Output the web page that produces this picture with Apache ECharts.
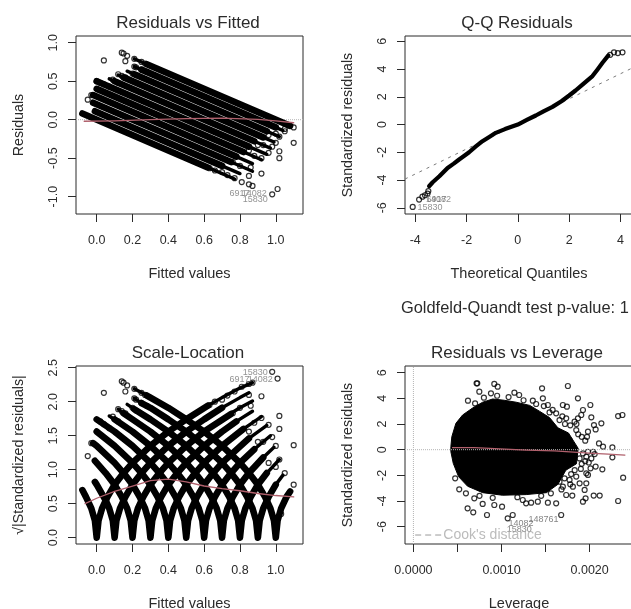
<!DOCTYPE html>
<html><head><meta charset="utf-8">
<style>html,body{margin:0;padding:0;background:#fff;overflow:hidden}#c{width:631px;height:609px}canvas{filter:blur(0.45px)}</style>
<script src="https://cdn.jsdelivr.net/npm/echarts@6/dist/echarts.min.js"></script>
</head><body><div id="c"></div>
<script>
// Residuals vs Fitted: dense bands (one per observed level), read as start/end points
const bandStartX=[-0.08,-0.01,-0.02,-0.02,0,0,0.1,0.15,0.21,0.25,0.28];
const bandStartY=[0.08,0.11,0.22,0.32,0.4,0.5,0.5,0.55,0.59,0.65,0.72];
const bandEndX=[0.62,0.7,0.75,0.78,0.82,0.85,0.88,0.93,0.95,1.0,1.08];
const bandEndY=[-0.62,-0.6,-0.55,-0.48,-0.42,-0.35,-0.28,-0.23,-0.15,-0.1,-0.08];
// thinner strings of overlapping circles at the ends of the bands
const rvfStrings=[[[0.62,-0.62],[0.77,-0.77]],[[0.7,-0.6],[0.8,-0.7]],[[0.75,-0.55],[0.87,-0.67]],[[0.78,-0.48],[0.87,-0.57]],[[0.82,-0.42],[0.92,-0.52]],[[0.85,-0.35],[0.95,-0.45]],[[0.88,-0.28],[0.97,-0.37]],[[0.93,-0.23],[0.99,-0.29]],[[0.95,-0.15],[1.02,-0.22]],[[1.0,-0.1],[1.04,-0.14]],[[0.28,0.72],[0.21,0.79]],[[0.25,0.65],[0.21,0.69]],[[0.21,0.59],[0.17,0.63]],[[0.15,0.55],[0.12,0.58]],[[0.1,0.5],[0.07,0.53]]];
const rvfSparse=[[0.14,0.87],[0.15,0.86],[0.17,0.83],[0.21,0.79],[0.25,0.75],[0.27,0.73],[0.21,0.69],[0.22,0.68],[0.25,0.65],[0.28,0.62],[0.04,0.77],[0.16,0.76],[0.12,0.59],[0.14,0.57],[0.16,0.55],[0.2,0.6],[0.22,0.58],[0.09,0.52],[0.12,0.48],[0.02,0.48],[0.04,0.46],[0.07,0.43],[0,0.5],[-0.05,0.26],[-0.03,0.32],[0.63,-0.63],[0.66,-0.66],[0.7,-0.68],[0.73,-0.72],[0.77,-0.76],[0.81,-0.81],[0.85,-0.84],[0.87,-0.86],[0.98,-0.97],[1.01,-0.9],[0.92,-0.7],[1.02,-0.41],[1.02,-0.5],[1.1,-0.3],[1.1,-0.1],[0.92,-0.5],[0.96,-0.43],[0.98,-0.35],[1.0,-0.3],[1.02,-0.22],[1.05,-0.12],[1.05,-0.15],[0.86,-0.62],[0.85,-0.73],[0.8,-0.6],[0.76,-0.55],[0.88,-0.47],[0.85,-0.4],[0.9,-0.33],[0.93,-0.33],[0.96,-0.2],[1.0,-0.18]];
const rvfSmooth=[[-0.07,-0.02],[0.1,-0.015],[0.3,0],[0.5,0.015],[0.7,0.02],[0.9,0.005],[1.0,-0.015],[1.1,-0.04]];
const rvfLabels=[[0.741,-0.957,'6917'],[0.81,-0.957,'14082'],[0.816,-1.043,'15830']];
const fittedTicks=[0,0.2,0.4,0.6,0.8,1.0];
const rvfYTicks=[-1,-0.5,0,0.5,1];

// Q-Q Residuals
const qqCurve=[[-3.46,-4.45],[-3.32,-4.16],[-3.06,-3.73],[-2.74,-3.13],[-2.5,-2.82],[-2.29,-2.52],[-2.1,-2.27],[-1.9,-2.0],[-1.65,-1.6],[-1.38,-1.2],[-1.1,-0.88],[-0.86,-0.6],[-0.5,-0.33],[0,0],[0.35,0.33],[0.7,0.65],[1.0,0.95],[1.35,1.27],[1.7,1.68],[2,2.09],[2.25,2.45],[2.52,2.88],[2.91,3.49],[3.1,3.95],[3.3,4.45],[3.53,4.98]];
const qqTails=[[-4.1,-5.94],[-3.85,-5.41],[-3.72,-5.2],[-3.62,-5.1],[-3.52,-4.98],[-3.49,-4.8],[3.6,5.02],[3.75,5.2],[3.9,5.15],[4.08,5.2]];
const qqRef=[[-4.4,-3.93],[4.49,4.1]];
const qqLabels=[[-3.91,-5.96,'15830'],[-3.58,-5.41,'14082'],[-3.56,-5.41,'6917']];
const qqXTicks=[-4,-2,0,2,4];
const qqYTicks=[-6,-4,-2,0,2,4,6];

// Scale-Location: one V-shaped dense band per observed level
const slBands=[
[[-0.08,0.70],[-0.06,0.60],[-0.03,0.43],[-0.01,0.25],[0,0],[0.01,0.25],[0.03,0.43],[0.06,0.60],[0.1,0.78],[0.15,0.95],[0.2,1.1],[0.3,1.35],[0.4,1.56],[0.5,1.74],[0.62,1.94]],
[[-0.01,0.82],[0,0.78],[0.05,0.55],[0.07,0.43],[0.09,0.25],[0.1,0],[0.11,0.25],[0.13,0.43],[0.16,0.6],[0.2,0.78],[0.25,0.95],[0.3,1.1],[0.4,1.35],[0.5,1.56],[0.6,1.74],[0.7,1.91]],
[[-0.01,1.13],[0,1.1],[0.05,0.95],[0.1,0.78],[0.14,0.6],[0.17,0.43],[0.19,0.25],[0.2,0],[0.21,0.25],[0.23,0.43],[0.26,0.6],[0.3,0.78],[0.35,0.95],[0.4,1.1],[0.5,1.35],[0.6,1.56],[0.75,1.82]],
[[-0.02,1.39],[0,1.35],[0.1,1.1],[0.15,0.95],[0.2,0.78],[0.24,0.6],[0.27,0.43],[0.29,0.25],[0.3,0],[0.31,0.25],[0.33,0.43],[0.36,0.6],[0.4,0.78],[0.45,0.95],[0.5,1.1],[0.6,1.35],[0.7,1.56],[0.78,1.71]],
[[0,1.56],[0.1,1.35],[0.2,1.1],[0.25,0.95],[0.3,0.78],[0.34,0.6],[0.37,0.43],[0.39,0.25],[0.4,0],[0.41,0.25],[0.43,0.43],[0.46,0.6],[0.5,0.78],[0.55,0.95],[0.6,1.1],[0.7,1.35],[0.82,1.6]],
[[0,1.74],[0.1,1.56],[0.2,1.35],[0.3,1.1],[0.35,0.95],[0.4,0.78],[0.44,0.6],[0.47,0.43],[0.49,0.25],[0.5,0],[0.51,0.25],[0.53,0.43],[0.56,0.6],[0.6,0.78],[0.65,0.95],[0.7,1.1],[0.85,1.46]],
[[0.1,1.74],[0.2,1.56],[0.3,1.35],[0.4,1.1],[0.45,0.95],[0.5,0.78],[0.54,0.6],[0.57,0.43],[0.59,0.25],[0.6,0],[0.61,0.25],[0.63,0.43],[0.66,0.6],[0.7,0.78],[0.75,0.95],[0.8,1.1],[0.88,1.3]],
[[0.15,1.83],[0.2,1.74],[0.3,1.56],[0.4,1.35],[0.5,1.1],[0.55,0.95],[0.6,0.78],[0.64,0.6],[0.67,0.43],[0.69,0.25],[0.7,0],[0.71,0.25],[0.73,0.43],[0.76,0.6],[0.8,0.78],[0.85,0.95],[0.93,1.18]],
[[0.21,1.89],[0.3,1.74],[0.4,1.56],[0.5,1.35],[0.6,1.1],[0.65,0.95],[0.7,0.78],[0.74,0.6],[0.77,0.43],[0.79,0.25],[0.8,0],[0.81,0.25],[0.83,0.43],[0.86,0.6],[0.9,0.78],[0.95,0.95]],
[[0.25,1.98],[0.3,1.91],[0.4,1.74],[0.5,1.56],[0.6,1.35],[0.7,1.1],[0.75,0.95],[0.8,0.78],[0.84,0.6],[0.87,0.43],[0.89,0.25],[0.9,0],[0.91,0.25],[0.93,0.43],[0.96,0.6],[1.0,0.78]],
[[0.28,2.09],[0.3,2.06],[0.4,1.91],[0.5,1.74],[0.6,1.56],[0.7,1.35],[0.8,1.1],[0.85,0.95],[0.9,0.78],[0.94,0.6],[0.97,0.43],[0.99,0.25],[1,0],[1.01,0.25],[1.03,0.43],[1.06,0.6],[1.08,0.68]]
];
const slStrings=[[[0.62,1.94],[0.7,2.06],[0.8,2.2],[0.87,2.28]],[[0.7,1.91],[0.8,2.06],[0.85,2.13]],[[0.75,1.83],[0.8,1.91],[0.87,2.01]],[[0.78,1.71],[0.87,1.86]],[[0.82,1.6],[0.92,1.78]],[[0.85,1.46],[0.95,1.65]],[[0.88,1.3],[0.97,1.5]],[[0.93,1.18],[0.99,1.33]],[[0.95,0.95],[1.02,1.15]],[[1.0,0.78],[1.04,0.92]],[[0.28,2.09],[0.21,2.19]],[[0.25,1.98],[0.21,2.05]],[[0.21,1.89],[0.17,1.96]],[[0.15,1.83],[0.12,1.89]],[[0.1,1.74],[0.07,1.79]]];
const slSparse=[[0.14,2.3],[0.15,2.28],[0.17,2.24],[0.21,2.19],[0.25,2.13],[0.27,2.1],[0.21,2.05],[0.22,2.03],[0.25,1.98],[0.28,1.94],[0.04,2.13],[0.16,2.15],[0.12,1.89],[0.14,1.86],[0.16,1.83],[0.2,1.91],[0.22,1.87],[0.09,1.78],[0.12,1.71],[0.02,1.71],[0.04,1.67],[0.07,1.61],[-0.05,1.2],[-0.03,1.39],[0.63,1.95],[0.66,2.0],[0.7,2.03],[0.73,2.09],[0.77,2.15],[0.81,2.22],[0.85,2.26],[0.87,2.28],[0.98,2.44],[1.01,2.34],[0.92,2.08],[1.02,1.6],[1.02,1.79],[1.1,1.36],[1.1,0.78],[0.92,1.76],[0.96,1.66],[0.98,1.48],[1.0,1.35],[1.02,1.15],[1.05,0.95],[0.86,1.94],[0.85,2.1],[0.8,1.91],[0.76,1.83],[0.88,1.69],[0.85,1.56],[0.9,1.41],[0.93,1.41],[0.96,1.10],[1.0,1.04],[1.03,0.35]];
const slSmooth=[[-0.065,0.5],[0,0.58],[0.1,0.68],[0.2,0.76],[0.3,0.84],[0.4,0.86],[0.5,0.82],[0.6,0.76],[0.7,0.72],[0.8,0.69],[0.9,0.65],[1.0,0.62],[1.1,0.6]];
const slLabels=[[0.816,2.426,'15830'],[0.741,2.32,'6917'],[0.844,2.32,'14082']];
const slYTicks=[0,0.5,1,1.5,2,2.5];

// Residuals vs Leverage
const blobLeverage=[0.000425,0.000436,0.000482,0.000558,0.000672,0.000786,0.0009,0.00103,0.001165,0.00132,0.00143,0.001545,0.00164,0.00176,0.00187,0.00185,0.00173,0.00164,0.00151,0.00128,0.00101,0.000786,0.000615,0.000512,0.000452,0.000425];
const blobResidual=[0.23,1.01,2.05,2.7,3.25,3.7,3.95,3.85,3.7,3.45,3.0,2.5,1.7,1.3,0.1,-1.1,-1.6,-2.7,-3.35,-3.5,-3.55,-3.35,-2.85,-2.1,-1.06,-0.16];
const rvlSparse=[[0.000717,5.17],[0.000725,5.17],[0.000748,4.52],[0.000918,5.12],[0.000956,4.91],[0.000619,3.82],[0.00088,4.39],[0.001146,4.44],[0.0012,4.26],[0.00146,4.78],[0.001753,4.96],[0.001867,4.0],[0.002008,3.48],[0.001696,3.48],[0.001742,3.35],[0.001526,3.48],[0.001469,4.0],[0.001355,3.82],[0.001393,3.56],[0.002323,2.62],[0.002372,2.7],[0.002133,2.05],[0.002019,2.52],[0.002049,1.92],[0.002068,1.58],[0.001981,1.4],[0.001924,3.09],[0.001905,2.7],[0.001867,2.44],[0.001829,2.18],[0.001734,2.44],[0.00162,2.83],[0.001658,2.31],[0.001545,2.9],[0.002106,0.49],[0.002152,0.23],[0.002258,0.18],[0.002258,-0.6],[0.00238,-2.18],[0.002323,-4.0],[0.002114,-3.58],[0.002046,-3.58],[0.002144,-1.53],[0.002068,-1.32],[0.001962,-1.84],[0.001981,-1.97],[0.001962,-2.62],[0.001943,-3.14],[0.001954,-3.79],[0.001924,-4.05],[0.001803,-3.58],[0.001677,-5.09],[0.00162,-4.18],[0.001526,-4.13],[0.001412,-4.05],[0.001336,-4.13],[0.001241,-3.92],[0.001279,-4.18],[0.001127,-5.09],[0.00107,-5.35],[0.000918,-4.31],[0.001006,-4.44],[0.000786,-4.23],[0.000835,-5.09],[0.000679,-4.88],[0.000615,-4.57],[0.000691,-3.79],[0.000596,-3.4],[0.00052,-3.09],[0.000474,-2.23],[0.001772,0.75],[0.001848,1.53],[0.001772,-0.8],[0.001886,-0.68],[0.001962,-0.55],[0.002019,-0.68],[0.002038,-0.16],[0.002057,-0.34],[0.001981,-0.16],[0.001924,-0.29],[0.001848,-2.1],[0.001772,-2.36],[0.001696,-2.88],[0.00181,-2.88],[0.001734,-3.53],[0.001886,-2.62],[0.001658,-2.49],[0.001715,-2.23],[0.00191,1.0],[0.00195,0.7],[0.00185,2.0],[0.00178,1.9],[0.0019,-1.5],[0.00183,-1.6],[0.00172,2.0],[0.00169,2.6],[0.00158,3.1],[0.00148,3.4],[0.00125,3.85],[0.00108,4.1],[0.00095,4.2],[0.0008,4.05],[0.0007,3.6],[0.00168,-3.1],[0.00156,-3.4],[0.00145,-3.6],[0.00118,-3.7],[0.0009,-3.75],[0.00075,-3.6],[0.00179,-1.9],[0.00178,-2.7],[0.00191,-1.1],[0.00195,-0.9],[0.00199,-1.0],[0.00187,1.2],[0.00197,1.0],[0.00201,-1.45]];
const rvlSmooth=[[0.000444,0.16],[0.00069,0.16],[0.00071,0.03],[0.00128,-0.03],[0.0013,-0.1],[0.0016,-0.1],[0.00162,-0.23],[0.00204,-0.29],[0.00221,-0.34],[0.0024,-0.42]];
const rvlLabels=[[0.001305,-5.48,'148761'],[0.00108,-5.79,'14082'],[0.00106,-6.2,'15830']];
const cookLegendLine=[[0.00002,-6.65],[0.00033,-6.65]];
const cookLegendText=[[0.00034,-6.65,"Cook's distance"]];
const leverageTicks=[0,0.0005,0.001,0.0015,0.002];
const leverageLabels=[0,0.001,0.002];
const rvlYTicks=[-6,-4,-2,0,2,4,6];

const titles=[
  ['Residuals vs Fitted',188,23],['Q-Q Residuals',517,23],['Scale-Location',188,353],['Residuals vs Leverage',517,353]
];
const testNote='Goldfeld-Quandt test p-value: 1';

const FONT='"Liberation Sans",Arial,sans-serif', INK='#2b2b2b', SMOOTH='#b0606c', GUIDE='#b5b5b5';
const grids=[[76,36,227,178],[405,36,228,178],[76,366,227,178],[405,366,228,178]]
  .map(g=>({left:g[0],top:g[1],width:g[2],height:g[3],show:true,borderColor:INK,borderWidth:1,backgroundColor:'transparent',outerBoundsMode:'none',containLabel:false}));

function xAx(i,min,max,name,ticks,labels,fmt){return {type:'value',gridIndex:i,min,max,name,nameLocation:'middle',nameGap:52,
  nameTextStyle:{fontFamily:FONT,fontSize:14.5,color:INK},splitLine:{show:false},axisLine:{show:false,onZero:false},
  axisTick:{show:true,length:8,lineStyle:{color:INK},customValues:ticks},
  axisLabel:{fontFamily:FONT,fontSize:12.5,color:INK,margin:20,customValues:labels,formatter:fmt}};}
function yAx(i,min,max,name,ticks,fmt,gap){return {type:'value',gridIndex:i,min,max,name,nameLocation:'middle',nameGap:gap||50,
  nameTextStyle:{fontFamily:FONT,fontSize:14.2,color:INK},splitLine:{show:false},axisLine:{show:false,onZero:false},
  axisTick:{show:true,length:8,lineStyle:{color:INK},customValues:ticks},
  axisLabel:{fontFamily:FONT,fontSize:12.5,color:INK,rotate:90,margin:16,customValues:ticks,formatter:fmt}};}
const f1=v=>v.toFixed(1), f0=v=>String(v), f4=v=>v.toFixed(4);

function line(i,data,color,width,extra){return Object.assign({type:'line',xAxisIndex:i,yAxisIndex:i,data,showSymbol:false,symbol:'none',silent:true,
  lineStyle:{color,width,cap:'round',join:'round'}},extra||{});}
function dots(i,data){return {type:'scatter',xAxisIndex:i,yAxisIndex:i,data,symbol:'circle',symbolSize:5,silent:true,
  itemStyle:{color:'rgba(255,255,255,0)',borderColor:'#000',borderWidth:1.2}};}
function labels(i,rows,size,color){return {type:'scatter',xAxisIndex:i,yAxisIndex:i,symbolSize:0,silent:true,clip:false,
  data:rows.map(r=>({value:[r[0],r[1]],label:{formatter:r[2]}})),
  label:{show:true,position:'right',distance:0,fontFamily:FONT,fontSize:size||9,color:color||'#777'}};}
function guide(i,data,type,w){return line(i,data,GUIDE,w||1,{lineStyle:{color:GUIDE,width:w||1,type:type||'dotted'}});}

const series=[];
// panel 1
series.push(guide(0,[[-0.1156,0],[1.152,0]]));
bandStartX.forEach((x,k)=>series.push(line(0,[[x,bandStartY[k]],[bandEndX[k],bandEndY[k]]],'#000',6.6)));
rvfStrings.forEach(s=>series.push(line(0,s,'#000',3.4)));
series.push(dots(0,rvfSparse));
series.push(line(0,rvfSmooth,SMOOTH,1.3));
series.push(labels(0,rvfLabels));
// panel 2
series.push(line(1,qqRef,'#7a7a7a',1,{lineStyle:{color:'#7a7a7a',width:1,type:[3,5]}}));
series.push(line(1,qqCurve,'#000',4.2));
series.push(dots(1,qqTails));
series.push(labels(1,qqLabels));
// panel 3
slBands.forEach(b=>series.push(line(2,b,'#000',6.6)));
slStrings.forEach(s=>series.push(line(2,s,'#000',3.4)));
series.push(dots(2,slSparse));
series.push(line(2,slSmooth,SMOOTH,1.3));
series.push(labels(2,slLabels));
// panel 4
series.push(guide(3,[[-0.0000955,0],[0.002492,0]]));
series.push(guide(3,[[0,-7.35],[0,6.52]]));
series.push({type:'custom',coordinateSystem:'cartesian2d',xAxisIndex:3,yAxisIndex:3,silent:true,data:[0],clip:true,
  renderItem:(p,api)=>({type:'polygon',shape:{points:blobLeverage.map((x,i)=>api.coord([x,blobResidual[i]]))},style:{fill:'#000',stroke:'#000'}})});
series.push(dots(3,rvlSparse));
series.push(line(3,rvlSmooth,SMOOTH,1.3));
series.push(labels(3,rvlLabels,9,'#666'));
series.push(line(3,cookLegendLine,'#9a9a9a',1,{lineStyle:{color:'#9a9a9a',width:1,type:[6,4]}}));
series.push(labels(3,cookLegendText,14,'#aaa'));

const titleComps=titles.map(t=>({text:t[0],left:t[1],top:t[2],textAlign:'center',textVerticalAlign:'middle',padding:0,
  textStyle:{fontFamily:FONT,fontSize:17,fontWeight:'normal',color:INK}}));
titleComps.push({text:testNote,left:401,top:308,textVerticalAlign:'middle',padding:0,textStyle:{fontFamily:FONT,fontSize:16.4,fontWeight:'normal',color:INK}});

const chart=echarts.init(document.getElementById('c'),null,{renderer:'canvas',width:631,height:609});
chart.setOption({animation:false,backgroundColor:'#fff',title:titleComps,grid:grids,
  xAxis:[xAx(0,-0.1156,1.152,'Fitted values',fittedTicks,fittedTicks,f1),
         xAx(1,-4.4,4.49,'Theoretical Quantiles',qqXTicks,qqXTicks,f0),
         xAx(2,-0.1156,1.152,'Fitted values',fittedTicks,fittedTicks,f1),
         xAx(3,-0.0000955,0.002492,'Leverage',leverageTicks,leverageLabels,f4)],
  yAxis:[yAx(0,-1.225,1.087,'Residuals',rvfYTicks,f1),
         yAx(1,-6.45,6.38,'Standardized residuals',qqYTicks,f0),
         yAx(2,-0.093,2.525,'√|Standardized residuals|',slYTicks,f1),
         yAx(3,-7.35,6.52,'Standardized residuals',rvlYTicks,f0)],
  series});
</script></body></html>
